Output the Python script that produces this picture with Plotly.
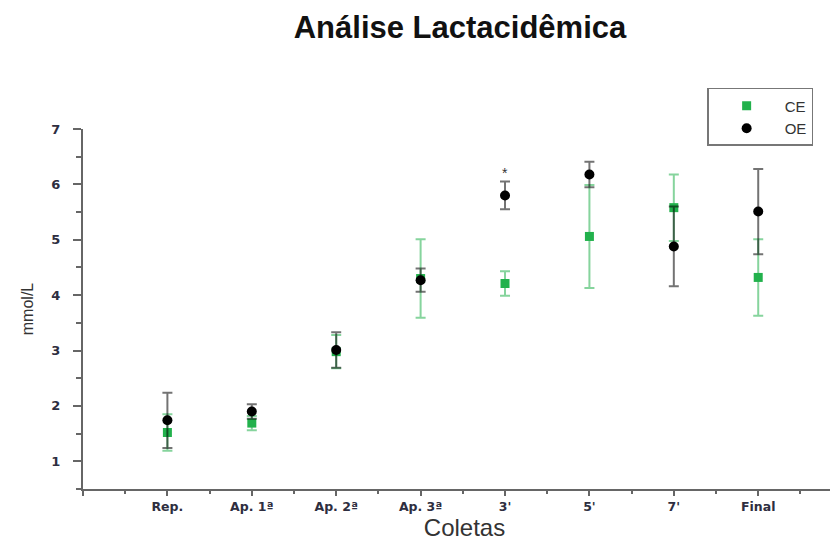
import plotly.graph_objects as go

categories = ["Rep.", "Ap. 1ª", "Ap. 2ª", "Ap. 3ª", "3'", "5'", "7'", "Final"]
ce_mean = [1.52, 1.69, 2.98, 4.30, 4.21, 5.06, 5.58, 4.32]
ce_err = [0.33, 0.13, 0.30, 0.71, 0.22, 0.93, 0.60, 0.69]
oe_mean = [1.74, 1.90, 3.01, 4.27, 5.80, 6.18, 4.88, 5.51]
oe_err = [0.50, 0.13, 0.32, 0.21, 0.25, 0.23, 0.72, 0.77]
sig_label = "*"
sig_index = 4
sig_y = 6.2

xs = list(range(1, len(categories) + 1))
font = "Liberation Sans, Arial, sans-serif"
wide = "DejaVu Sans, Verdana, sans-serif"

fig = go.Figure()
fig.add_trace(go.Scatter(
    x=xs, y=ce_mean, mode="markers", name="CE",
    marker=dict(symbol="square", size=9, color="#22b14c"),
    error_y=dict(type="data", array=ce_err, color="rgba(34,177,76,0.55)",
                 thickness=2, width=5),
))
fig.add_trace(go.Scatter(
    x=xs, y=oe_mean, mode="markers", name="OE",
    marker=dict(symbol="circle", size=10, color="#000000"),
    error_y=dict(type="data", array=oe_err, color="rgba(0,0,0,0.55)",
                 thickness=2, width=5),
))

fig.add_annotation(x=xs[sig_index], y=sig_y, text=sig_label, showarrow=False,
                   font=dict(size=14, color="#333", family=font))

fig.update_layout(
    width=838, height=545,
    paper_bgcolor="white", plot_bgcolor="white",
    margin=dict(l=75, r=0, t=121, b=64, autoexpand=False),
    font=dict(family=font),
    title=dict(text="<b>Análise Lactacidêmica</b>", x=452 / 838, xanchor="center",
               xref="container", yref="container", y=1 - 19 / 545, yanchor="middle",
               font=dict(size=31, color="#111", family=font)),
    showlegend=True,
    legend=dict(x=0.818, y=1.114, xanchor="left", yanchor="top",
                bordercolor="#777", borderwidth=1.5, bgcolor="white",
                font=dict(size=15, color="#333", family=font),
                itemwidth=66, entrywidth=110, tracegroupgap=0),
)

fig.update_xaxes(
    range=[0, 9.04], showgrid=False, zeroline=False,
    showline=True, linecolor="#666", linewidth=2,
    tickmode="array", tickvals=[0] + xs, ticktext=[""] + categories,
    ticks="outside", ticklen=5, tickwidth=2, tickcolor="#666",
    tickfont=dict(size=12.5, color="#2e2e40", family=wide, weight="bold"),
    minor=dict(tickmode="linear", tick0=0.5, dtick=1, ticks="outside",
               ticklen=3, tickwidth=2, tickcolor="#666"),
    title=dict(text="Coletas", font=dict(size=24, color="#333", family=font),
               standoff=4),
)
fig.update_yaxes(
    range=[0.5, 7], showgrid=False, zeroline=False,
    showline=True, linecolor="#666", linewidth=2,
    tickmode="linear", tick0=1, dtick=1,
    ticks="outside", ticklen=8, tickwidth=2, tickcolor="#666",
    ticklabelstandoff=10,
    tickfont=dict(size=13, color="#2e2e40", family=wide, weight="bold"),
    minor=dict(tickmode="linear", tick0=0.5, dtick=0.5, ticks="outside",
               ticklen=5, tickwidth=2, tickcolor="#666"),
    title=dict(text="mmol/L", font=dict(size=16, color="#333", family=font),
               standoff=14),
)

fig.write_html("out.html")
